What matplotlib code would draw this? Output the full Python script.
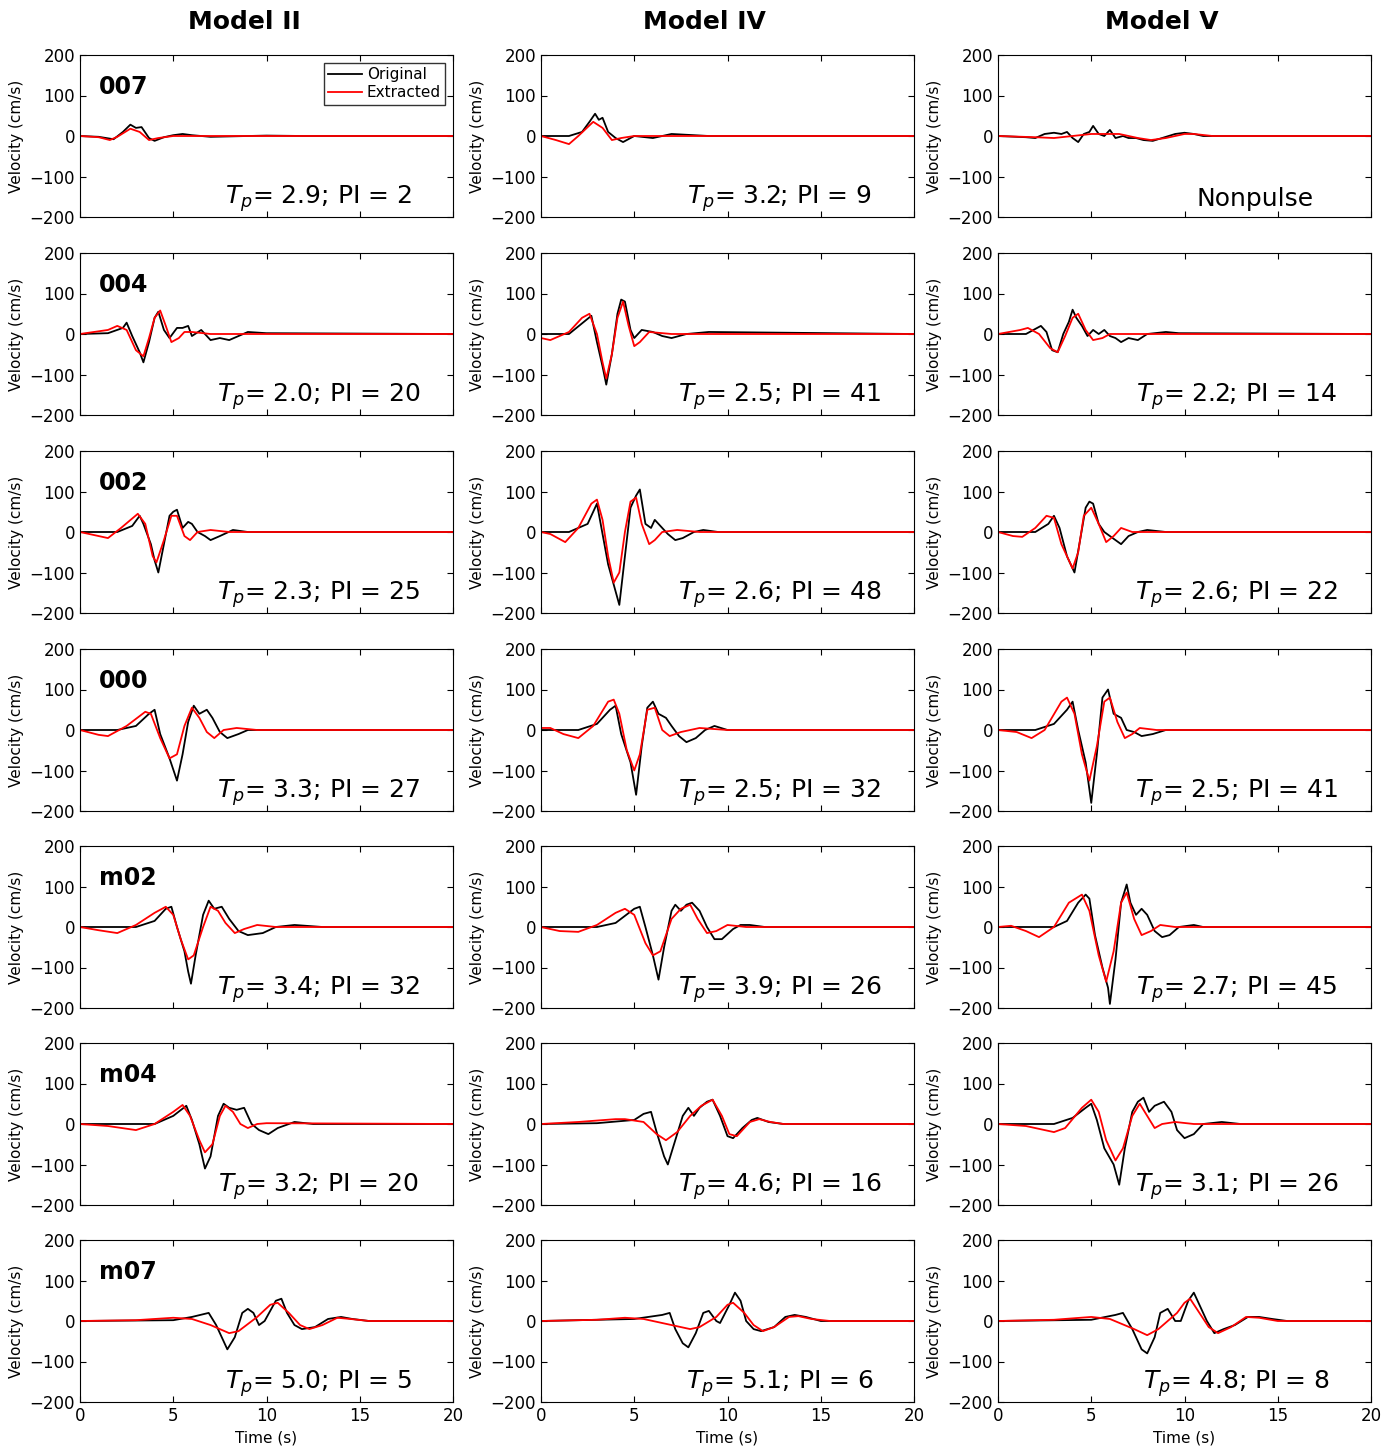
import matplotlib
matplotlib.use("Agg")
import matplotlib.pyplot as plt
import numpy as np

models = ["Model II", "Model IV", "Model V"]
stations = ["007", "004", "002", "000", "m02", "m04", "m07"]

tp_II = [2.9, 2.0, 2.3, 3.3, 3.4, 3.2, 5.0]
pi_II = [2, 20, 25, 27, 32, 20, 5]
tp_IV = [3.2, 2.5, 2.6, 2.5, 3.9, 4.6, 5.1]
pi_IV = [9, 41, 48, 32, 26, 16, 6]
tp_V = [None, 2.2, 2.6, 2.5, 2.7, 3.1, 4.8]
pi_V = [None, 14, 22, 41, 45, 26, 8]

# (time s, velocity cm/s) points
orig_II = [
    [(0,0),(1,-2),(1.8,-8),(2.3,10),(2.7,28),(3.0,20),(3.3,22),(3.7,-5),(4.0,-12),(4.5,-3),(5,2),(5.5,5),(6,2),(7,-2),(10,1),(12,0),(20,0)],
    [(0,0),(1.5,2),(2.3,15),(2.5,28),(2.8,-5),(3.2,-45),(3.4,-70),(3.7,-20),(4,40),(4.2,55),(4.5,10),(4.8,-10),(5.2,15),(5.5,15),(5.8,20),(6,-5),(6.5,10),(7,-15),(7.5,-10),(8,-15),(9,5),(10,2),(20,0)],
    [(0,0),(2,0),(2.8,15),(3.2,40),(3.4,20),(3.8,-30),(4.0,-70),(4.2,-100),(4.5,-30),(4.8,40),(5.0,50),(5.2,55),(5.5,10),(5.8,25),(6.0,20),(6.3,0),(6.7,-10),(7.0,-20),(7.5,-10),(8.2,5),(9,0),(20,0)],
    [(0,0),(2,0),(3,10),(3.7,40),(4.0,50),(4.3,-10),(4.8,-70),(5.2,-125),(5.5,-60),(5.8,20),(6.1,60),(6.4,40),(6.8,50),(7.1,30),(7.5,-5),(7.9,-20),(8.5,-10),(9,0),(20,0)],
    [(0,0),(3,0),(4,15),(4.6,45),(4.9,50),(5.2,0),(5.6,-60),(5.8,-110),(5.95,-140),(6.2,-70),(6.6,30),(6.9,65),(7.2,45),(7.6,50),(8.0,20),(8.5,-10),(9,-20),(9.8,-15),(10.5,0),(11.5,5),(13,0),(20,0)],
    [(0,0),(4,0),(5,20),(5.7,45),(6.0,10),(6.4,-50),(6.7,-110),(7.0,-80),(7.4,20),(7.7,50),(8.0,40),(8.4,35),(8.8,40),(9.2,0),(9.6,-15),(10.1,-25),(10.6,-10),(11.5,5),(12.5,0),(20,0)],
    [(0,0),(5,2),(6,10),(6.9,20),(7.3,-10),(7.7,-50),(7.9,-70),(8.3,-40),(8.7,20),(9.0,30),(9.3,20),(9.6,-10),(9.9,0),(10.5,50),(10.8,55),(11.1,20),(11.5,-10),(11.9,-20),(12.6,-15),(13.3,5),(14,10),(14.6,5),(15.5,0),(20,0)],
]
ext_II = [
    [(0,0),(1,-3),(1.6,-10),(2.0,-2),(2.7,18),(3.2,10),(3.7,-10),(4.2,-5),(5,0),(20,0)],
    [(0,0),(1.5,10),(2.0,20),(2.5,10),(3.0,-40),(3.4,-55),(3.7,-10),(4.0,40),(4.3,58),(4.6,20),(4.9,-20),(5.3,-10),(5.6,5),(6,5),(7,0),(20,0)],
    [(0,0),(1.0,-10),(1.5,-15),(2.2,10),(3.1,45),(3.5,20),(3.9,-60),(4.1,-75),(4.5,-20),(4.9,40),(5.2,40),(5.6,-10),(5.9,-20),(6.3,0),(7,5),(8,0),(20,0)],
    [(0,0),(1.0,-12),(1.5,-15),(2.5,10),(3.5,45),(3.8,40),(4.3,-20),(4.8,-70),(5.2,-60),(5.6,10),(6.0,55),(6.4,30),(6.8,-5),(7.2,-20),(7.7,0),(8.4,5),(9.5,0),(20,0)],
    [(0,0),(1,-8),(2,-15),(3,5),(4,35),(4.6,50),(5.0,30),(5.4,-30),(5.8,-80),(6.1,-70),(6.6,0),(7.0,50),(7.4,40),(7.8,10),(8.3,-15),(8.8,-5),(9.5,5),(10.5,0),(20,0)],
    [(0,0),(1.5,-5),(3,-15),(4,0),(5,30),(5.5,47),(5.9,20),(6.4,-40),(6.7,-70),(7.1,-50),(7.5,20),(7.8,45),(8.2,30),(8.6,0),(9,-10),(9.5,0),(10,2),(20,0)],
    [(0,0),(3,2),(5,8),(6,5),(7,-10),(8,-30),(8.5,-25),(9.5,10),(10.2,40),(10.6,45),(11.2,20),(11.8,-10),(12.3,-20),(13,-10),(13.8,8),(14.5,5),(15.5,0),(20,0)],
]
orig_IV = [
    [(0,0),(1.5,0),(2.2,10),(2.6,35),(2.9,55),(3.1,40),(3.3,45),(3.6,10),(4.0,-5),(4.4,-15),(5,0),(6,-5),(7,5),(9,0),(20,0)],
    [(0,0),(1.5,0),(2.3,30),(2.7,45),(3.0,-20),(3.3,-80),(3.5,-125),(3.8,-50),(4.1,50),(4.3,85),(4.5,80),(4.8,10),(5.0,-10),(5.4,10),(6,5),(6.5,-5),(7,-10),(7.8,0),(9,5),(20,0)],
    [(0,0),(1.5,0),(2.5,20),(3.0,70),(3.2,20),(3.6,-80),(3.9,-130),(4.2,-180),(4.5,-60),(4.8,60),(5.1,90),(5.3,105),(5.6,20),(5.9,10),(6.1,30),(6.4,15),(6.8,-5),(7.2,-20),(7.6,-15),(8.2,0),(8.7,5),(9.5,0),(20,0)],
    [(0,0),(2,0),(3,15),(3.7,50),(4.0,60),(4.3,-10),(4.8,-80),(5.1,-160),(5.4,-40),(5.7,55),(6.0,70),(6.3,40),(6.7,30),(7.0,10),(7.4,-15),(7.8,-30),(8.3,-20),(8.8,0),(9.3,10),(10,0),(20,0)],
    [(0,0),(3,0),(4,10),(5.0,45),(5.3,50),(5.6,0),(6.0,-70),(6.3,-130),(6.6,-50),(7.0,40),(7.2,55),(7.5,40),(7.8,55),(8.1,60),(8.5,40),(8.9,0),(9.3,-30),(9.7,-30),(10.3,-5),(10.7,5),(11.2,5),(12,0),(20,0)],
    [(0,0),(3,2),(5,10),(5.5,25),(5.9,30),(6.2,-20),(6.6,-80),(6.8,-100),(7.2,-40),(7.6,20),(7.9,40),(8.2,20),(8.5,40),(8.9,55),(9.2,60),(9.6,20),(10.0,-30),(10.3,-35),(10.8,-10),(11.3,10),(11.6,15),(12.2,5),(13,0),(20,0)],
    [(0,0),(5,5),(6.5,15),(6.9,20),(7.2,-20),(7.6,-55),(7.9,-65),(8.3,-30),(8.7,20),(9.0,25),(9.4,0),(9.6,-5),(10.1,40),(10.4,70),(10.7,50),(11.0,0),(11.4,-20),(11.8,-25),(12.5,-15),(13.1,10),(13.6,15),(14.2,10),(15,0),(20,0)],
]
ext_IV = [
    [(0,0),(0.8,-10),(1.5,-20),(2.0,0),(2.8,35),(3.3,20),(3.8,-10),(4.3,-5),(5,0),(20,0)],
    [(0,-10),(0.5,-15),(1.5,5),(2.2,40),(2.6,50),(3.0,0),(3.3,-70),(3.5,-110),(3.8,-50),(4.1,40),(4.4,80),(4.7,20),(5.0,-30),(5.3,-20),(5.8,5),(7,0),(20,0)],
    [(0,0),(0.5,-5),(1.3,-25),(2.0,10),(2.7,70),(3.0,80),(3.3,30),(3.6,-60),(3.9,-125),(4.2,-100),(4.5,0),(4.8,75),(5.1,85),(5.4,20),(5.8,-30),(6.1,-20),(6.5,0),(7.3,5),(8.5,0),(20,0)],
    [(0,5),(0.5,5),(1.2,-10),(2.0,-20),(2.8,10),(3.6,70),(3.9,75),(4.2,40),(4.6,-50),(5.0,-100),(5.3,-60),(5.7,50),(6.1,55),(6.5,0),(6.9,-15),(7.5,-5),(8.5,5),(10,0),(20,0)],
    [(0,0),(1,-10),(2,-12),(3,5),(4,35),(4.5,45),(5.0,30),(5.6,-40),(6.0,-70),(6.4,-60),(7.0,20),(7.5,45),(8.0,55),(8.4,20),(8.9,-15),(9.4,-10),(10,5),(11,0),(20,0)],
    [(0,0),(2,5),(4,12),(4.5,12),(5.5,5),(6.2,-25),(6.7,-40),(7.3,-20),(8.0,20),(8.6,45),(9.2,60),(9.7,20),(10.1,-25),(10.5,-30),(11.2,5),(11.7,12),(12.3,5),(13,0),(20,0)],
    [(0,0),(3,3),(4.5,8),(5.5,5),(7,-10),(8,-20),(8.5,-15),(9.4,10),(10,40),(10.3,45),(10.9,20),(11.4,-10),(11.9,-25),(12.5,-15),(13.3,10),(13.8,12),(14.5,5),(15.5,0),(20,0)],
]
orig_V = [
    [(0,0),(1.5,-3),(2,-5),(2.5,5),(3,8),(3.4,5),(3.7,10),(4,-5),(4.3,-15),(4.6,5),(4.9,10),(5.1,25),(5.4,5),(5.7,0),(6,15),(6.3,-5),(6.7,0),(7,-5),(7.4,-5),(7.8,-10),(8.3,-12),(8.8,-5),(9.5,5),(10,8),(10.5,5),(11,0),(20,0)],
    [(0,0),(1.5,0),(2.3,20),(2.6,5),(2.9,-40),(3.2,-45),(3.5,0),(3.8,30),(4.0,60),(4.2,40),(4.5,20),(4.8,-5),(5.1,10),(5.4,0),(5.7,10),(6.0,-5),(6.3,-10),(6.6,-20),(7.0,-10),(7.5,-15),(8.0,0),(9,5),(9.7,2),(20,0)],
    [(0,0),(2,0),(2.7,20),(3.0,40),(3.3,10),(3.7,-60),(4.1,-100),(4.4,-20),(4.7,60),(4.9,75),(5.1,70),(5.4,20),(5.7,0),(6.0,-10),(6.3,-20),(6.6,-30),(7.0,-10),(7.5,0),(8.0,5),(9,0),(20,0)],
    [(0,0),(2,0),(3,15),(3.7,50),(4.0,70),(4.3,0),(4.7,-80),(5.0,-180),(5.3,-60),(5.6,80),(5.9,100),(6.2,40),(6.6,30),(6.9,0),(7.3,-5),(7.7,-15),(8.3,-10),(9,0),(20,0)],
    [(0,0),(3,0),(3.7,15),(4.3,60),(4.7,80),(4.9,70),(5.2,-20),(5.6,-100),(5.9,-150),(6.0,-190),(6.3,-80),(6.6,60),(6.9,105),(7.1,60),(7.4,30),(7.7,45),(8.0,30),(8.4,-10),(8.8,-25),(9.2,-20),(9.7,0),(10.5,5),(11,0),(20,0)],
    [(0,0),(3,0),(4,15),(4.7,40),(5.0,50),(5.3,10),(5.7,-60),(6.2,-100),(6.5,-150),(6.8,-60),(7.2,30),(7.5,55),(7.8,65),(8.1,30),(8.4,45),(8.9,55),(9.3,30),(9.6,-15),(10,-35),(10.5,-25),(11,0),(12,5),(13,0),(20,0)],
    [(0,0),(5,3),(6.3,15),(6.7,20),(7.2,-20),(7.7,-70),(8.0,-80),(8.4,-40),(8.7,20),(9.1,30),(9.5,0),(9.8,0),(10.2,50),(10.5,70),(10.8,40),(11.2,0),(11.6,-30),(12.1,-20),(12.7,-10),(13.4,10),(14,10),(14.7,5),(15.5,0),(20,0)],
]
ext_V = [
    [(0,0),(2,-3),(3,-5),(4,0),(5,5),(6.5,5),(7.5,-5),(8.2,-10),(9,-5),(10,5),(10.5,5),(11.5,0),(20,0)],
    [(0,0),(1.2,10),(1.6,15),(2.2,0),(2.8,-35),(3.2,-45),(3.6,-5),(4.0,40),(4.3,50),(4.7,10),(5.1,-15),(5.6,-10),(6,0),(7,0),(20,0)],
    [(0,0),(0.8,-10),(1.3,-12),(2.0,10),(2.6,40),(3.0,35),(3.4,-30),(4.0,-90),(4.3,-50),(4.6,40),(5.0,60),(5.4,20),(5.8,-25),(6.2,-10),(6.6,10),(7.2,0),(8,0),(20,0)],
    [(0,0),(1,-5),(1.8,-20),(2.5,0),(3.4,70),(3.7,80),(4.1,40),(4.5,-60),(4.9,-125),(5.3,-40),(5.7,70),(6.0,80),(6.4,20),(6.8,-20),(7.2,-10),(7.6,5),(8.5,0),(20,0)],
    [(0,0),(0.7,3),(1.5,-10),(2.2,-25),(3,0),(3.8,60),(4.5,80),(4.9,40),(5.4,-70),(5.8,-135),(6.2,-60),(6.6,60),(6.9,85),(7.3,20),(7.7,-20),(8.2,-10),(8.7,5),(9.5,0),(20,0)],
    [(0,0),(1.5,-5),(3,-20),(3.6,-10),(4.5,40),(5.0,60),(5.4,30),(5.8,-40),(6.3,-90),(6.7,-60),(7.2,20),(7.6,50),(8.0,20),(8.4,-10),(8.8,0),(9.5,5),(10.5,0),(20,0)],
    [(0,0),(3,3),(5,10),(6,5),(7.3,-20),(8,-35),(8.6,-20),(9.6,20),(10,45),(10.3,55),(10.8,20),(11.3,-15),(11.8,-30),(12.5,-15),(13.3,10),(14,8),(15,0),(20,0)],
]

cols = [(orig_II, ext_II, tp_II, pi_II),
        (orig_IV, ext_IV, tp_IV, pi_IV),
        (orig_V, ext_V, tp_V, pi_V)]

W, H = 1392, 1449
fig = plt.figure(figsize=(W / 100, H / 100), dpi=100)
col_left = [80, 541, 998]
row_top = [55, 253, 451, 649, 846, 1043, 1240]
aw, ah = 373, 162
title_x = [244, 704, 1162]

for c, (orig, ext, tps, pis) in enumerate(cols):
    fig.text(title_x[c] / W, 1 - 22 / H, models[c], ha="center", va="center",
             fontsize=18, fontweight="bold")
    for r in range(7):
        ax = fig.add_axes([col_left[c] / W, 1 - (row_top[r] + ah) / H, aw / W, ah / H])
        o = np.array(orig[r])
        e = np.array(ext[r])
        ax.plot(o[:, 0], o[:, 1], color="black", lw=1.3, label="Original")
        ax.plot(e[:, 0], e[:, 1], color="red", lw=1.3, label="Extracted")
        ax.set_xlim(0, 20)
        ax.set_ylim(-200, 200)
        ax.set_xticks([0, 5, 10, 15, 20])
        ax.set_yticks([-200, -100, 0, 100, 200])
        ax.tick_params(direction="in", labelsize=12, length=4, top=True, right=True)
        ax.set_ylabel("Velocity (cm/s)", fontsize=11)
        if r < 6:
            ax.tick_params(labelbottom=False)
        else:
            ax.set_xlabel("Time (s)", fontsize=11)
        if c == 0:
            ax.text(0.05, 0.8, stations[r], transform=ax.transAxes, fontsize=17,
                    fontweight="bold", va="center")
        if tps[r] is None:
            ax.text(0.69, 0.04, "Nonpulse", transform=ax.transAxes, fontsize=18,
                    ha="center", va="bottom")
        else:
            ax.text(0.64, 0.02, r"$T_p$= %.1f; PI = %d" % (tps[r], pis[r]),
                    transform=ax.transAxes, fontsize=18, ha="center", va="bottom")
        if c == 0 and r == 0:
            leg = ax.legend(loc="upper right", fontsize=11, frameon=True,
                            fancybox=False, handlelength=2.2, borderpad=0.3,
                            labelspacing=0.2, handletextpad=0.3)
            leg.get_frame().set_edgecolor("black")

fig.savefig("out.png", dpi=100)
